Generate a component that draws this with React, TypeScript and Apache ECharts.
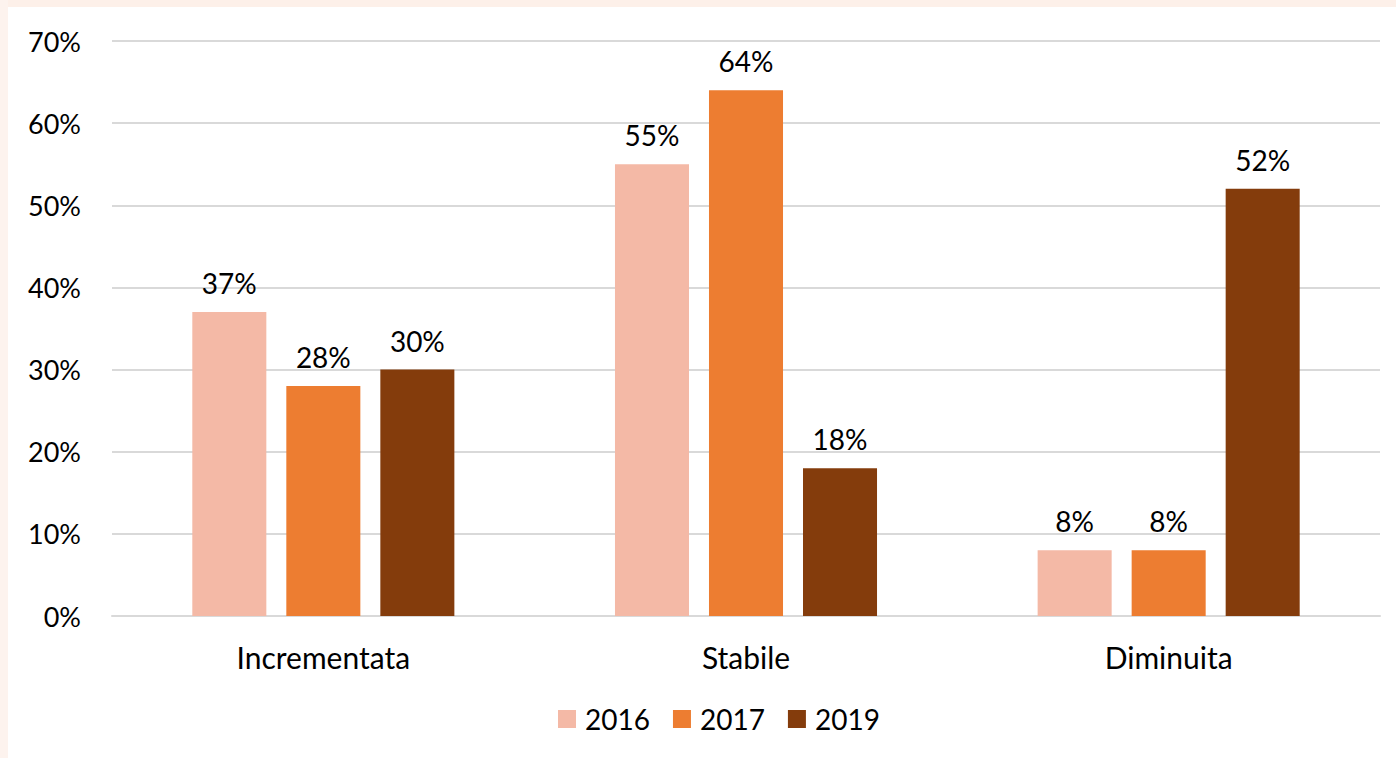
import React, { useEffect, useRef } from "react";
import * as echarts from "echarts";

const categories = ["Incrementata", "Stabile", "Diminuita"];
const seriesNames = ["2016", "2017", "2019"];
const values2016 = [37, 55, 8];
const values2017 = [28, 64, 8];
const values2019 = [30, 18, 52];
const colors = ["#F4B9A6", "#ED7D31", "#843C0C"];

export default function App() {
  const ref = useRef<HTMLDivElement>(null);
  useEffect(() => {
    const chart = echarts.init(ref.current!, null, { renderer: "svg" });
    const font = "Lato, 'Open Sans', sans-serif";
    const data = [values2016, values2017, values2019];
    chart.setOption({
      animation: false,
      backgroundColor: "#ffffff",
      textStyle: { fontFamily: font },
      graphic: [
        { type: "rect", left: 0, top: 0, shape: { width: 1396, height: 7 }, style: { fill: "#FDF0E9" }, silent: true },
        { type: "rect", left: 0, top: 0, shape: { width: 8, height: 758 }, style: { fill: "#FDF3EE" }, silent: true },
      ],
      grid: { left: 112, right: 16, top: 41, bottom: 142, containLabel: false },
      legend: {
        data: seriesNames,
        bottom: 20,
        left: 553,
        itemWidth: 18,
        itemHeight: 18,
        itemGap: 23,
        icon: "rect",
        textStyle: { fontSize: 28, color: "#000", fontFamily: font, padding: [0, 0, 0, 4] },
      },
      xAxis: {
        type: "category",
        data: categories,
        axisLine: { lineStyle: { color: "#D9D9D9", width: 2 } },
        axisTick: { show: false },
        axisLabel: { fontSize: 30, color: "#000", margin: 26, fontFamily: font },
      },
      yAxis: {
        type: "value",
        min: 0,
        max: 70,
        interval: 10,
        axisLine: { show: false },
        axisTick: { show: false },
        splitLine: { lineStyle: { color: "#D9D9D9", width: 2 } },
        axisLabel: { fontSize: 27, color: "#000", margin: 31, formatter: "{value}%", fontFamily: font },
      },
      series: seriesNames.map((name, i) => ({
        name,
        type: "bar",
        data: data[i],
        itemStyle: { color: colors[i] },
        barGap: "27%",
        barCategoryGap: "38%",
        label: {
          show: true,
          position: "top",
          distance: 15,
          formatter: "{c}%",
          fontSize: 28,
          color: "#000",
          fontFamily: font,
        },
      })),
    });
    return () => chart.dispose();
  }, []);
  return (
    <div
      ref={ref}
      style={{ position: "absolute", left: 0, top: 0, width: 1396, height: 758 }}
    />
  );
}
